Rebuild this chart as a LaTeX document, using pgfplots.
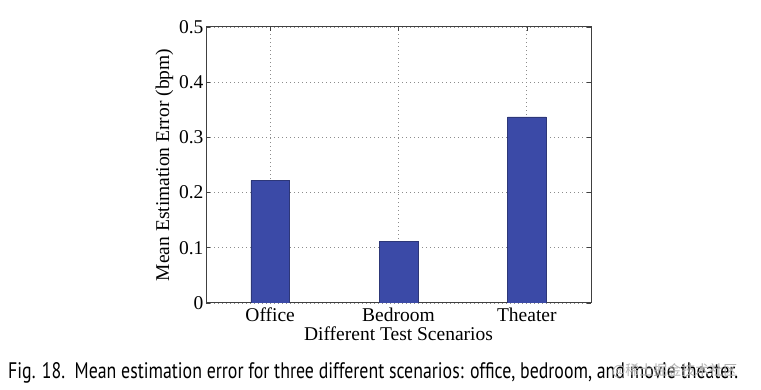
\documentclass[border=0pt]{standalone}
\usepackage{pgfplots}
\pgfplotsset{compat=1.18}
\usepackage{fontspec}
\setmainfont{Liberation Serif}
\newfontfamily\capfont{PT Sans}
\newfontfamily\cjk{Noto Sans CJK SC}
\definecolor{barfill}{RGB}{59,74,167}
\definecolor{baredge}{RGB}{45,55,120}
\definecolor{gridc}{RGB}{140,140,140}
\begin{document}
\begin{tikzpicture}[x=1pt,y=1pt]
\path[fill=white] (0,0) rectangle (761,390);
\begin{axis}[
  at={(206pt,87pt)}, anchor=south west,
  scale only axis, width=385pt, height=276pt,
  xmin=0.5, xmax=3.5, ymin=0, ymax=0.5,
  xtick={1,2,3}, xticklabels={Office,Bedroom,Theater},
  ytick={0,0.1,0.2,0.3,0.4,0.5},
  yticklabels={0,0.1,0.2,0.3,0.4,0.5},
  tick align=inside, tick pos=both,
  major tick length=4pt,
  grid=major,
  major grid style={gridc, dash pattern=on 0.8pt off 3.2pt, line width=0.7pt},
  axis line style={black!75, line width=1pt},
  tick style={black!75, line width=0.6pt},
  ticklabel style={font=\fontsize{19.5}{21}\selectfont},
  xlabel={Different Test Scenarios},
  ylabel={Mean Estimation Error (bpm)},
  label style={font=\fontsize{19.5}{21}\selectfont},
  xlabel style={yshift=2pt},
  ylabel style={yshift=-1pt},
  /pgf/number format/assume math mode=true,
  xticklabel style={yshift=-1pt},
  yticklabel style={xshift=1pt},
]
\addplot[ybar, bar width=0.3, fill=barfill, draw=baredge, line width=0.5pt]
  coordinates {(1,0.222) (2,0.112) (3,0.337)};
\end{axis}
\node[anchor=west, inner sep=0pt] at (8,17) {\resizebox{730pt}{16pt}{\capfont Fig. 18.\ \ Mean estimation error for three different scenarios: office, bedroom, and movie theater.}};
\node[anchor=west, inner sep=0pt, text=black!30] at (612,19) {\fontsize{14}{16}\selectfont\cjk @稀土掘金技术社区};
\end{tikzpicture}
\end{document}
